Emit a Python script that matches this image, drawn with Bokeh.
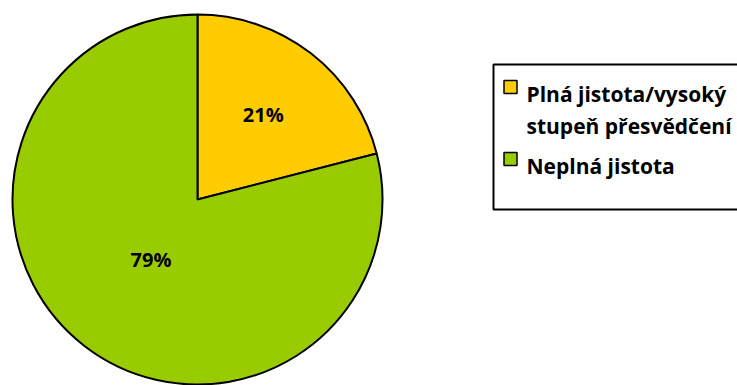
import math
import textwrap
from bokeh.plotting import figure
from bokeh.models import Range1d, ColumnDataSource
from bokeh.core.properties import value
from bokeh.embed import file_html
from bokeh.resources import INLINE

# ---- data ----
categories = ["Plná jistota/vysoký stupeň přesvědčení", "Neplná jistota"]
shares = [21, 79]
colors = ["#FFCC00", "#99CC00"]
label_radius_frac = [0.58, 0.41]

W, H = 737, 385
p = figure(width=W, height=H, output_backend="svg", toolbar_location=None,
           x_range=Range1d(0, W), y_range=Range1d(0, H),
           x_axis_location=None, y_axis_location=None, min_border=0)
p.xgrid.visible = False
p.ygrid.visible = False
p.outline_line_color = None
p.background_fill_color = "white"

cx, cy, r = 197, 186, 185
total = sum(shares)
starts, ends, lx, ly, ltxt = [], [], [], [], []
acc = 0.0
for s, f in zip(shares, label_radius_frac):
    a0 = math.pi / 2 - 2 * math.pi * acc / total
    a1 = math.pi / 2 - 2 * math.pi * (acc + s) / total
    starts.append(a0)
    ends.append(a1)
    mid = (a0 + a1) / 2
    lx.append(cx + f * r * math.cos(mid))
    ly.append(cy + f * r * math.sin(mid))
    ltxt.append(f"{s}%")
    acc += s

src = ColumnDataSource(dict(start=starts, end=ends, color=colors))
p.wedge(x=cx, y=cy, radius=r, start_angle="start", end_angle="end",
        direction="clock", fill_color="color", line_color="black",
        line_width=2, source=src)

p.text(x=lx, y=ly, text=ltxt, text_align="center", text_baseline="middle",
       text_font=value("Open Sans"), text_font_style="bold", text_font_size="20px",
       text_color="black")

# legend box
p.quad(left=[493], right=[760], top=[H - 64], bottom=[H - 209],
       fill_color="white", line_color="black", line_width=2)

base = H - 93
line_gap = 32
tx, ty, tt = [], [], []
sx, sy = [], []
for cat, col in zip(categories, colors):
    lines = textwrap.wrap(cat, 20)
    sx.append(510)
    sy.append(base + 6.5)
    for i, ln in enumerate(lines):
        tx.append(526)
        ty.append(base - i * line_gap)
        tt.append(ln)
    base -= len(lines) * line_gap + 8

p.rect(x=sx, y=sy, width=13, height=13, fill_color=colors,
       line_color="black", line_width=1.5)
p.text(x=tx, y=ty, text=tt, text_align="left", text_baseline="alphabetic",
       text_font=value("Open Sans"), text_font_style="bold", text_font_size="21px",
       text_color="black")

open("out.html", "w").write(file_html(p, INLINE))
